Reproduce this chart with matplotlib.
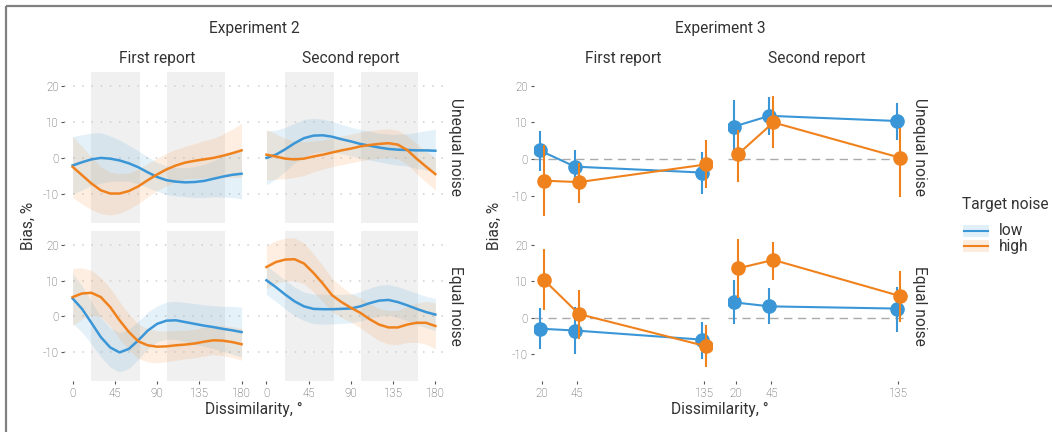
import numpy as np
import matplotlib
matplotlib.use("Agg")
import matplotlib.pyplot as plt
from matplotlib.patches import Rectangle

plt.rcParams["font.family"] = ["Roboto", "DejaVu Sans"]
plt.rcParams["font.weight"] = "light"
plt.rcParams["axes.unicode_minus"] = False

# ---- data -------------------------------------------------------------
# Experiment 2: smoothed bias curves, read every 10 deg
deg = [0, 10, 20, 30, 40, 50, 60, 70, 80, 90, 100, 110, 120, 130, 140, 150, 160, 170, 180]

e2_first_unequal_low = [-2.1, -1.2, -0.4, 0.0, -0.2, -0.7, -1.5, -2.6, -4.0, -5.3, -6.2, -6.6, -6.8, -6.7, -6.4, -5.8, -5.2, -4.7, -4.4]
e2_first_unequal_high = [-2.5, -4.8, -7.1, -9.0, -9.9, -9.9, -9.2, -7.9, -6.2, -4.6, -3.2, -2.1, -1.3, -0.8, -0.4, 0.0, 0.6, 1.3, 2.1]
e2_second_unequal_low = [0.0, 0.9, 2.4, 4.1, 5.5, 6.2, 6.3, 5.9, 5.2, 4.6, 3.9, 3.4, 2.9, 2.5, 2.3, 2.2, 2.1, 2.1, 2.0]
e2_second_unequal_high = [0.9, 0.4, -0.2, -0.4, -0.2, 0.4, 0.9, 1.5, 2.1, 2.6, 3.2, 3.6, 3.9, 4.1, 3.7, 2.2, -0.2, -2.4, -4.5]
e2_first_equal_low = [5.0, 2.1, -1.8, -5.8, -8.7, -10.1, -9.1, -6.7, -4.0, -2.1, -1.2, -1.1, -1.6, -2.1, -2.6, -3.0, -3.5, -3.9, -4.4]
e2_first_equal_high = [5.4, 6.4, 6.6, 5.4, 2.6, -1.1, -4.4, -7.0, -8.1, -8.5, -8.4, -8.1, -7.9, -7.6, -7.1, -6.7, -6.8, -7.2, -7.8]
e2_second_equal_low = [10.1, 8.2, 6.1, 4.2, 2.8, 2.1, 2.0, 2.0, 2.1, 2.2, 2.8, 3.7, 4.4, 4.6, 4.0, 3.1, 2.1, 1.2, 0.5]
e2_second_equal_high = [13.8, 15.2, 15.9, 16.0, 14.8, 12.2, 9.2, 5.9, 4.0, 2.4, 1.0, -0.8, -2.3, -3.1, -3.1, -2.3, -1.8, -1.8, -2.7]

# confidence band half-widths
hw_first_unequal_low = [8, 7.7, 7.3, 7, 6.3, 5.7, 5, 4.6, 4.3, 4, 4, 4, 4, 4.3, 4.6, 5, 5.7, 6.3, 7]
hw_first_unequal_high = [8.5, 8, 7.3, 6.5, 6, 5.5, 5, 4.8, 4.6, 4.5, 4.5, 4.5, 4.5, 4.8, 5.2, 5.5, 6, 6.7, 7.5]
hw_second_unequal_low = [7.5, 6.8, 6.1, 5.5, 5.2, 4.8, 4.5, 4.3, 4.1, 4, 4, 4, 4, 4.1, 4.3, 4.5, 5, 5.5, 6]
hw_second_unequal_high = [7, 6.3, 5.6, 5, 4.7, 4.3, 4, 4, 4, 4, 4, 4, 4, 4, 4, 4, 4.2, 4.3, 4.5]
hw_first_equal_low = [7, 6.5, 6, 5.5, 5.5, 5.5, 5.5, 5.3, 5.2, 5, 5.2, 5.3, 5.5, 5.7, 5.8, 6, 6.3, 6.7, 7]
hw_first_equal_high = [8, 7.2, 6.3, 5.5, 5.3, 5.2, 5, 4.8, 4.7, 4.5, 4.3, 4.2, 4, 4, 4, 4, 4.2, 4.3, 4.5]
hw_second_equal_low = [4, 4, 4, 4, 4, 4.1, 4.2, 4.1, 4.1, 4, 4.1, 4.2, 4.3, 4.3, 4.3, 4.3, 4.4, 4.4, 4.5]
hw_second_equal_high = [6, 6, 6, 6, 5.7, 5.3, 5, 4.7, 4.3, 4, 4.2, 4.3, 4.5, 4.7, 4.8, 5, 5.5, 6, 6.5]

# shaded dissimilarity ranges
bands = [(20, 72), (101, 162)]

# Experiment 3: point estimates with intervals
e3_x = [20, 45, 135]
e3 = {
    ("unequal", "first", "low"): ([2.4, -2.0, -3.6], [-3.3, -6.5, -9.4], [7.8, 2.4, 2.1]),
    ("unequal", "first", "high"): ([-5.8, -6.2, -1.4], [-15.4, -11.8, -7.9], [3.9, -1.0, 5.2]),
    ("unequal", "second", "low"): ([8.9, 11.8, 10.4], [2.0, 6.6, 5.2], [16.1, 17.0, 15.3]),
    ("unequal", "second", "high"): ([1.4, 10.0, 0.4], [-6.1, 3.0, -10.2], [8.0, 17.2, 8.5]),
    ("equal", "first", "low"): ([-3.0, -3.5, -6.0], [-8.5, -9.9, -11.2], [2.7, 3.0, -1.1]),
    ("equal", "first", "high"): ([10.4, 1.0, -7.8], [2.2, -5.8, -13.4], [18.7, 7.7, -2.0]),
    ("equal", "second", "low"): ([4.2, 3.1, 2.5], [-1.8, -1.8, -3.8], [10.4, 8.2, 8.5]),
    ("equal", "second", "high"): ([13.5, 15.8, 5.9], [5.5, 10.4, -1.1], [21.6, 20.8, 12.9]),
}

colors = {"low": "#3A96D6", "high": "#F0821E"}
yticks = [-10, 0, 10, 20]

# ---- layout -----------------------------------------------------------
W, H = 1052, 432
fig = plt.figure(figsize=(W / 100, H / 100), dpi=100)


def add_ax(x0, y0, x1, y1):
    return fig.add_axes([x0 / W, 1 - y1 / H, (x1 - x0) / W, (y1 - y0) / H])


def style(ax, left, bottom):
    for s in ax.spines.values():
        s.set_visible(False)
    ax.set_facecolor("white")
    ax.tick_params(length=2.5, width=0.8, color="#555555", labelsize=8.3,
                   labelcolor="#444444", pad=1.5)
    ax.set_yticks(yticks)
    if not left:
        ax.tick_params(axis="y", left=False, labelleft=False)
    if not bottom:
        ax.tick_params(axis="x", bottom=False, labelbottom=False)


rows_y = [(72, 223), (231, 381)]
e2_cols_x = [(64.2, 250), (258, 443.8)]
e3_cols_x = [(533.6, 712.2), (728, 906.6)]

e2_lines = {
    ("unequal", "first"): (e2_first_unequal_low, hw_first_unequal_low, e2_first_unequal_high, hw_first_unequal_high),
    ("unequal", "second"): (e2_second_unequal_low, hw_second_unequal_low, e2_second_unequal_high, hw_second_unequal_high),
    ("equal", "first"): (e2_first_equal_low, hw_first_equal_low, e2_first_equal_high, hw_first_equal_high),
    ("equal", "second"): (e2_second_equal_low, hw_second_equal_low, e2_second_equal_high, hw_second_equal_high),
}

noise_rows = ["unequal", "equal"]
reports = ["first", "second"]
x = np.array(deg)

# Experiment 2 panels
for r, noise in enumerate(noise_rows):
    for c, rep in enumerate(reports):
        ax = add_ax(e2_cols_x[c][0], rows_y[r][0], e2_cols_x[c][1], rows_y[r][1])
        style(ax, c == 0, r == 1)
        ax.set_xlim(-9, 189)
        ax.set_ylim(-18.1, 23.9)
        ax.set_xticks([0, 45, 90, 135, 180])
        for b0, b1 in bands:
            ax.axvspan(b0, b1, color="#F0F0F0", lw=0, zorder=0)
        for yv in yticks:
            ax.axhline(yv, color="#CFCFCF", lw=1.1, ls=(0, (1, 5)), zorder=1)
        low, hwl, high, hwh = e2_lines[(noise, rep)]
        for vals, hw, key in [(low, hwl, "low"), (high, hwh, "high")]:
            v = np.array(vals)
            h = np.array(hw)
            ax.fill_between(x, v - h, v + h, color=colors[key], alpha=0.13, lw=0, zorder=2)
        for vals, key in [(low, "low"), (high, "high")]:
            ax.plot(x, vals, color=colors[key], lw=1.8, zorder=3)

# Experiment 3 panels
for r, noise in enumerate(noise_rows):
    for c, rep in enumerate(reports):
        ax = add_ax(e3_cols_x[c][0], rows_y[r][0], e3_cols_x[c][1], rows_y[r][1])
        style(ax, c == 0, r == 1)
        ax.set_xlim(14.25, 140.75)
        ax.set_ylim(-17.3, 23.7)
        ax.set_xticks(e3_x)
        ax.axhline(0, color="#AAAAAA", lw=1.0, ls=(0, (6, 4)), zorder=1)
        for key, dx in [("low", -1.4), ("high", 1.4)]:
            m, lo, hi = e3[(noise, rep, key)]
            xs = np.array(e3_x) + dx
            z = 3 if key == "low" else 4
            ax.vlines(xs, lo, hi, color=colors[key], lw=1.5, zorder=z)
            ax.plot(xs, m, color=colors[key], lw=1.5, marker="o", ms=9.5,
                    mec=colors[key], zorder=z)

# ---- overlay: titles, labels, legend, frame ---------------------------
lay = fig.add_axes([0, 0, 1, 1])
lay.set_xlim(0, W)
lay.set_ylim(H, 0)
lay.axis("off")

tcol = "#333333"
fs = 11.2
tw = "normal"
for cx, title in [(254, "Experiment 2"), (720, "Experiment 3")]:
    lay.text(cx, 28, title, ha="center", va="center", fontsize=fs, color=tcol, weight=tw)
for cols in (e2_cols_x, e3_cols_x):
    for (x0, x1), lab in zip(cols, ["First report", "Second report"]):
        lay.text((x0 + x1) / 2, 58, lab, ha="center", va="center", fontsize=fs,
                 color=tcol, weight=tw)
for sx in (455, 920):
    for (y0, y1), lab in zip(rows_y, ["Unequal noise", "Equal noise"]):
        lay.text(sx, (y0 + y1) / 2, lab, ha="center", va="center", rotation=270,
                 fontsize=fs, color=tcol, weight=tw)
for lx in (28, 494):
    lay.text(lx, 226, "Bias, %", ha="center", va="center", rotation=90, fontsize=fs,
             color=tcol, weight=tw)
for cx in (254, 720):
    lay.text(cx, 409, "Dissimilarity, °", ha="center", va="center", fontsize=fs,
             color=tcol, weight=tw)

# legend
lay.text(962, 205, "Target noise", ha="left", va="center", fontsize=fs, color=tcol, weight=tw)
for (yc, key, lab) in [(230.5, "low", "low"), (246, "high", "high")]:
    lay.add_patch(Rectangle((963, yc - 6), 26, 12, facecolor=colors[key], alpha=0.15, lw=0))
    lay.plot([964, 988], [yc, yc], color=colors[key], lw=1.5)
    lay.text(999, yc, lab, ha="left", va="center", fontsize=fs, color=tcol, weight=tw)

# frame
lay.plot([5.8, W], [5.8, 5.8], color="#808080", lw=1.6, solid_capstyle="butt")
lay.plot([5.8, 5.8], [5.8, H], color="#808080", lw=1.6, solid_capstyle="butt")

fig.savefig("out.png", dpi=100, facecolor="white")
